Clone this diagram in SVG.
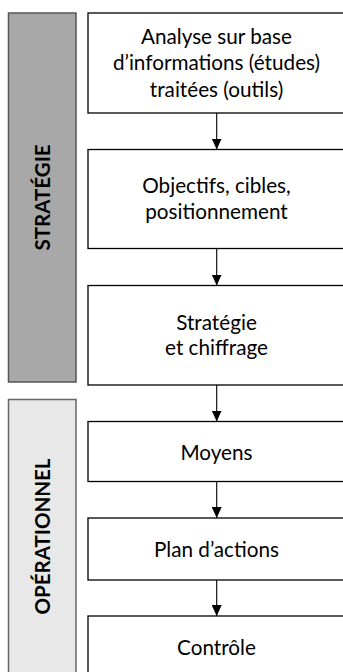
<svg xmlns="http://www.w3.org/2000/svg" width="343" height="672" viewBox="0 0 343 672">
<style>
.box{fill:#fff;stroke:#000;stroke-width:1.3}
.t{font-family:Lato,"Liberation Sans",sans-serif;font-size:20.7px;fill:#000;text-anchor:middle}
.lab{font-family:Lato,"Liberation Sans",sans-serif;font-size:20.5px;font-weight:bold;fill:#000;text-anchor:middle}
.con{stroke:#000;stroke-width:1.1;fill:none}
</style>
<defs>
<marker id="ah" markerWidth="11" markerHeight="10" refX="11" refY="5" orient="auto" markerUnits="userSpaceOnUse">
<path d="M0,0 L11,5 L0,10 Z" fill="#000"/>
</marker>
</defs>
<rect x="0" y="0" width="343" height="672" fill="#fff"/>
<g id="phase-strategie">
<rect x="8.5" y="13" width="67.5" height="369" fill="#a8a8a8" stroke="#555" stroke-width="1.5"/>
<text class="lab" transform="translate(49.5,197.5) rotate(-90)">STRATÉGIE</text>
</g>
<g id="phase-operationnel">
<rect x="8.5" y="399.5" width="67.5" height="290" fill="#e8e8e8" stroke="#666" stroke-width="1.5"/>
<text class="lab" transform="translate(49.5,536.5) rotate(-90)">OPÉRATIONNEL</text>
</g>
<g id="n1">
<rect class="box" x="88" y="13" width="258" height="100"/>
<text class="t" x="216.5" y="43.5">Analyse sur base</text>
<text class="t" x="216.5" y="70">d’informations (études)</text>
<text class="t" x="216.5" y="96.5">traitées (outils)</text>
</g>
<g id="n2">
<rect class="box" x="88" y="149.5" width="258" height="99"/>
<text class="t" x="216.5" y="193">Objectifs, cibles,</text>
<text class="t" x="216.5" y="218.5">positionnement</text>
</g>
<g id="n3">
<rect class="box" x="88" y="285.5" width="258" height="99.5"/>
<text class="t" x="216.5" y="329.5">Stratégie</text>
<text class="t" x="216.5" y="354.5">et chiffrage</text>
</g>
<g id="n4">
<rect class="box" x="88" y="421.5" width="258" height="60"/>
<text class="t" x="216.5" y="459.5">Moyens</text>
</g>
<g id="n5">
<rect class="box" x="88" y="518" width="258" height="62"/>
<text class="t" x="216.5" y="556.5">Plan d’actions</text>
</g>
<g id="n6">
<rect class="box" x="88" y="616" width="258" height="70"/>
<text class="t" x="216.5" y="655">Contrôle</text>
</g>
<g id="connectors">
<line class="con" x1="216.7" y1="113" x2="216.7" y2="149.5" marker-end="url(#ah)"/>
<line class="con" x1="216.7" y1="248.5" x2="216.7" y2="285.5" marker-end="url(#ah)"/>
<line class="con" x1="216.7" y1="385" x2="216.7" y2="421.5" marker-end="url(#ah)"/>
<line class="con" x1="216.7" y1="481.5" x2="216.7" y2="518" marker-end="url(#ah)"/>
<line class="con" x1="216.7" y1="580" x2="216.7" y2="616" marker-end="url(#ah)"/>
</g>
</svg>
